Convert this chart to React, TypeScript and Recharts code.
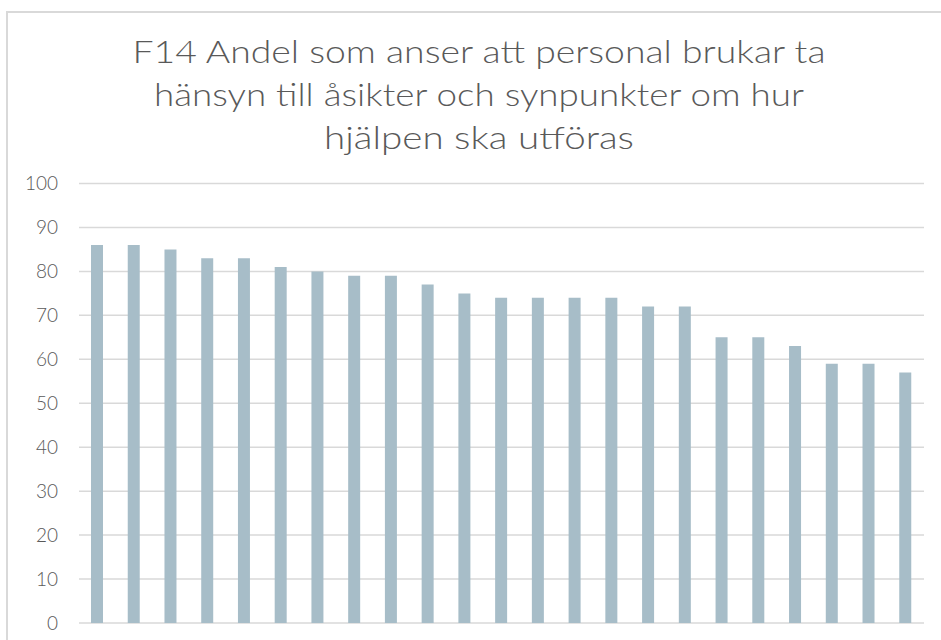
import React from "react";
import { BarChart, Bar, XAxis, YAxis, CartesianGrid } from "recharts";

const categories = [
  "1", "2", "3", "4", "5", "6", "7", "8", "9", "10", "11", "12",
  "13", "14", "15", "16", "17", "18", "19", "20", "21", "22", "23",
];
const values = [86, 86, 85, 83, 83, 81, 80, 79, 79, 77, 75, 74, 74, 74, 74, 72, 72, 65, 65, 63, 59, 59, 57];
const yTicks = [0, 10, 20, 30, 40, 50, 60, 70, 80, 90, 100];
const titleLines = [
  "F14 Andel som anser att personal brukar ta",
  "hänsyn till åsikter och synpunkter om hur",
  "hjälpen ska utföras",
];

const data = categories.map((c, i) => ({ name: c, value: values[i] }));

const FONT = "'Lato', 'Open Sans', sans-serif";
const TEXT = "#595959";

export default function App() {
  return (
    <div
      style={{
        position: "fixed",
        left: 6,
        top: 11,
        width: 1000,
        height: 700,
        border: "2px solid #d9d9d9",
        background: "#fff",
        overflow: "hidden",
      }}
    >
      <svg
        width={941}
        height={170}
        style={{ position: "absolute", left: -8, top: -13 }}
      >
        {titleLines.map((t, i) => (
          <text
            key={i}
            x={479}
            y={63 + i * 43}
            textAnchor="middle"
            fontFamily={FONT}
            fontWeight={300}
            fontSize={31}
            fill={TEXT}
            textLength={[693, 650, 310][i]}
            lengthAdjust="spacingAndGlyphs"
          >
            {t}
          </text>
        ))}
      </svg>
      <div style={{ position: "absolute", left: -8, top: -13 }}>
        <BarChart
          width={941}
          height={660}
          data={data}
          margin={{ top: 183.5, right: 17, bottom: 37, left: 0 }}
          barSize={12}
        >
          <CartesianGrid
            vertical={false}
            stroke="#d9d9d9"
            strokeWidth={1.5}
          />
          <XAxis dataKey="name" hide />
          <YAxis
            domain={[0, 100]}
            ticks={yTicks}
            width={79}
            axisLine={false}
            tickLine={false}
            tickSize={0}
            tickMargin={21}
            interval={0}
            tick={{ fill: TEXT, fontSize: 19, fontFamily: FONT, fontWeight: 300 }}
          />
          <Bar dataKey="value" fill="#a7bdc8" isAnimationActive={false} />
        </BarChart>
      </div>
    </div>
  );
}
